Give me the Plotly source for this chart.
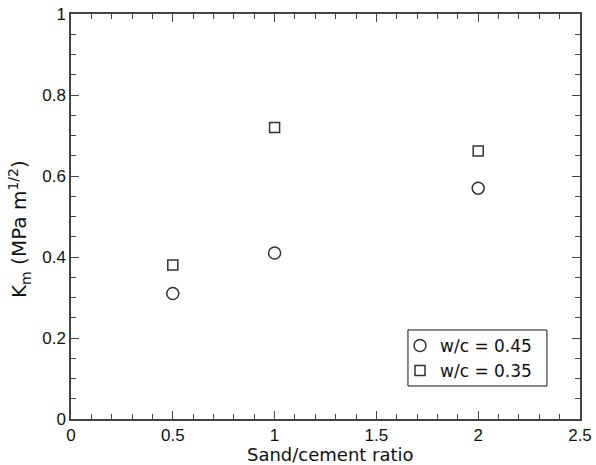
import plotly.graph_objects as go

sand_cement = [0.5, 1.0, 2.0]
km_wc045 = [0.31, 0.41, 0.57]
km_wc035 = [0.38, 0.72, 0.662]
x_ticks = [0, 0.5, 1, 1.5, 2, 2.5]
x_tick_labels = ["0", "0.5", "1", "1.5", "2", "2.5"]
y_ticks = [0, 0.2, 0.4, 0.6, 0.8, 1]
y_tick_labels = ["0", "0.2", "0.4", "0.6", "0.8", "1"]
x_title = "Sand/cement ratio"
y_title = "K<sub>m</sub> (MPa m<sup>1/2</sup>)"

line_col = "#333333"
tick_font = "Liberation Sans, Arial, Helvetica, sans-serif"
title_font = "DejaVu Sans, Liberation Sans, sans-serif"

fig = go.Figure()
fig.add_trace(go.Scatter(
    x=sand_cement, y=km_wc045, mode="markers", name="w/c = 0.45",
    marker=dict(symbol="circle-open", size=12, color=line_col, line=dict(width=1.5, color=line_col)),
))
fig.add_trace(go.Scatter(
    x=sand_cement, y=km_wc035, mode="markers", name="w/c = 0.35",
    marker=dict(symbol="square-open", size=10, color=line_col, line=dict(width=1.5, color=line_col)),
))

axis_common = dict(
    showline=True, linecolor="#444444", linewidth=1.5, mirror="allticks",
    ticks="inside", ticklen=8, tickwidth=1.2, tickcolor="#444444",
    showgrid=False, zeroline=False, automargin=False,
    tickfont=dict(family=tick_font, size=17, color="#111111"),
)

fig.update_xaxes(
    range=[0, 2.5], tickvals=x_ticks, ticktext=x_tick_labels,
    minor=dict(dtick=0.1, ticks="inside", ticklen=5, tickwidth=1.2, tickcolor="#444444", showgrid=False),
    **axis_common,
)
fig.update_yaxes(
    range=[0, 1], tickvals=y_ticks, ticktext=y_tick_labels,
    minor=dict(dtick=0.05, ticks="inside", ticklen=5, tickwidth=1.2, tickcolor="#444444", showgrid=False),
    **axis_common,
)

# axis titles as annotations (placed like the reference)
fig.add_annotation(text=x_title, xref="paper", yref="paper", x=(330 - 71) / 509, y=(419 - 454) / 405,
                   xanchor="center", yanchor="middle", showarrow=False,
                   font=dict(family=title_font, size=18, color="#111111"))
fig.add_annotation(text=y_title, xref="paper", yref="paper", x=(19 - 71) / 509, y=(419 - 229) / 405,
                   xanchor="center", yanchor="middle", showarrow=False, textangle=-90,
                   font=dict(family=title_font, size=20, color="#111111"))

# legend frame
fig.add_shape(type="rect", xref="paper", yref="paper",
              x0=0.662, x1=0.935, y0=0.0815, y1=0.2198,
              line=dict(color="#111111", width=1), fillcolor="white", layer="below")

fig.update_layout(
    width=596, height=465,
    margin=dict(l=71, r=16, t=14, b=46),
    paper_bgcolor="white", plot_bgcolor="white",
    showlegend=True,
    legend=dict(
        x=(400 - 71) / 509, y=0.225, xanchor="left", yanchor="top",
        borderwidth=0, bgcolor="rgba(0,0,0,0)",
        font=dict(family=title_font, size=17, color="#111111"),
        itemwidth=30, tracegroupgap=0,
    ),
)

fig.write_html("out.html", config={"displayModeBar": False},
               post_script="document.body.style.margin='0';document.body.style.overflow='hidden';")
